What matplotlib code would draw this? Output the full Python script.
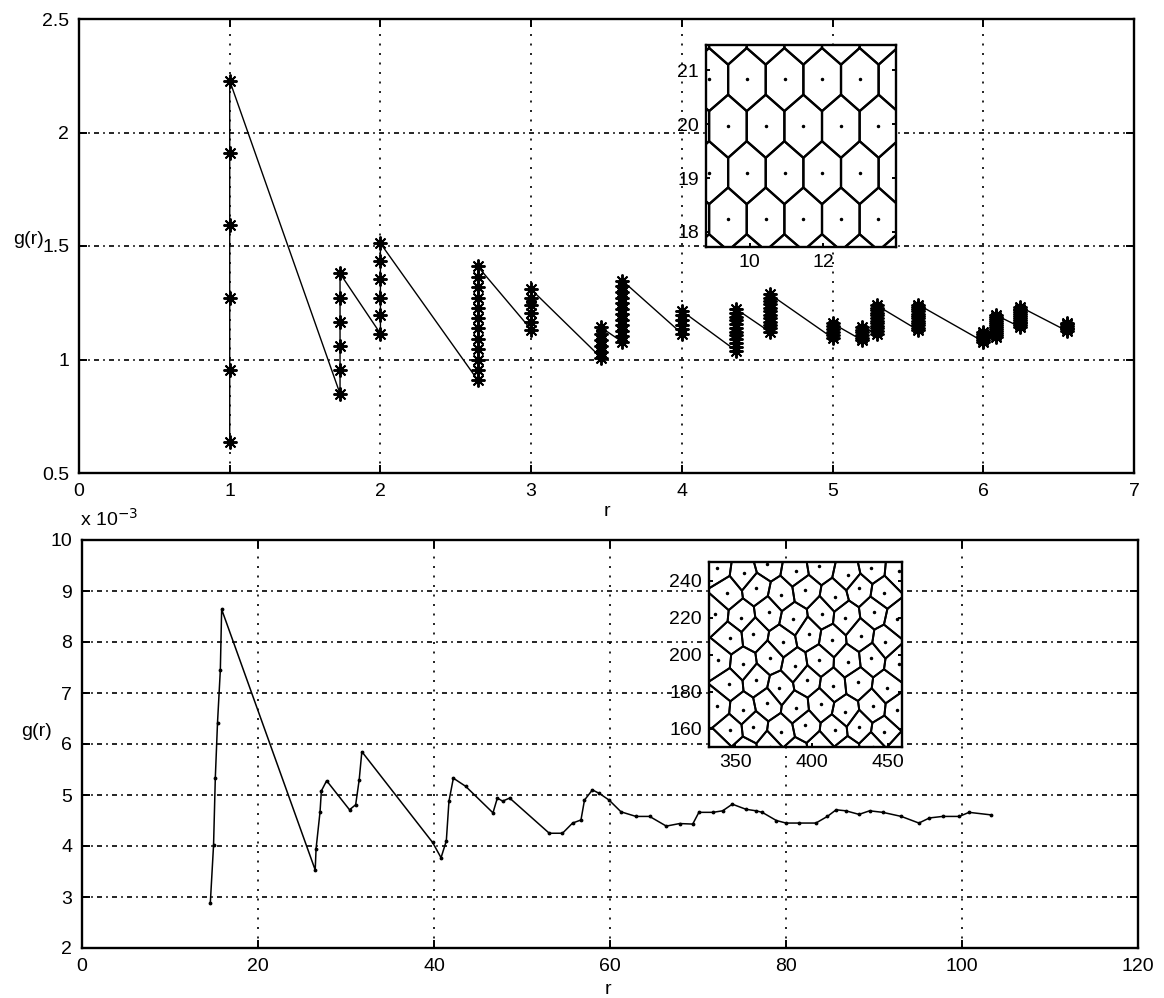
import numpy as np
import matplotlib
matplotlib.use("Agg")
import matplotlib.pyplot as plt
from matplotlib.patches import Polygon

plt.rcParams['font.family'] = ['Liberation Sans', 'DejaVu Sans']
plt.rcParams['font.size'] = 14

W, H = 1164, 998

# --- top panel: g(r) of the perfect lattice, one cluster per neighbour shell
shell_r = [1.0, 1.732, 2.0, 2.646, 3.0, 3.464, 3.606, 4.0, 4.359, 4.583,
           5.0, 5.196, 5.292, 5.568, 6.0, 6.083, 6.245, 6.557]
shell_g = [
    [0.637, 0.955, 1.273, 1.592, 1.910, 2.228],
    [0.849, 0.955, 1.061, 1.167, 1.273, 1.379],
    [1.114, 1.194, 1.273, 1.353, 1.432, 1.512],
    [0.909, 0.955, 1.000, 1.046, 1.091, 1.137, 1.182, 1.228, 1.273, 1.319, 1.364, 1.410],
    [1.132, 1.167, 1.203, 1.238, 1.273, 1.309],
    [1.008, 1.035, 1.061, 1.088, 1.114, 1.141],
    [1.077, 1.102, 1.126, 1.151, 1.175, 1.200, 1.224, 1.249, 1.273, 1.298, 1.322, 1.347],
    [1.114, 1.134, 1.154, 1.174, 1.194, 1.214],
    [1.039, 1.055, 1.072, 1.089, 1.106, 1.122, 1.139, 1.156, 1.173, 1.189, 1.206, 1.223],
    [1.122, 1.137, 1.152, 1.167, 1.182, 1.197, 1.213, 1.228, 1.243, 1.258, 1.273, 1.288],
    [1.095, 1.108, 1.120, 1.133, 1.146, 1.159],
    [1.085, 1.096, 1.108, 1.120, 1.132, 1.144],
    [1.114, 1.125, 1.137, 1.148, 1.160, 1.171, 1.182, 1.194, 1.205, 1.216, 1.228, 1.239],
    [1.129, 1.140, 1.150, 1.160, 1.171, 1.181, 1.191, 1.201, 1.212, 1.222, 1.232, 1.242],
    [1.079, 1.088, 1.096, 1.105, 1.114, 1.123],
    [1.101, 1.110, 1.118, 1.127, 1.136, 1.144, 1.153, 1.161, 1.170, 1.179, 1.187, 1.196],
    [1.143, 1.151, 1.159, 1.167, 1.175, 1.183, 1.192, 1.200, 1.208, 1.216, 1.224, 1.232],
    [1.125, 1.133, 1.140, 1.148, 1.155, 1.162],
]

# --- bottom panel: g(r) of the disordered packing (values in units of 1e-3)
bot_r = [14.58, 14.95, 15.15, 15.4, 15.72, 15.87, 26.5, 26.6, 27.05, 27.2, 27.8,
         30.4, 31.1, 31.5, 31.8, 39.84, 40.8, 41.4, 41.7, 42.2, 43.6, 46.7, 47.2,
         47.8, 48.6, 53.1, 54.6, 55.75, 56.7, 57.1, 58.0, 58.8, 59.9, 61.25, 62.95,
         64.5, 66.4, 67.9, 69.4, 70.1, 71.7, 72.8, 73.9, 75.45, 76.6, 77.3, 78.9,
         80.0, 81.5, 83.4, 84.7, 85.7, 86.8, 88.3, 89.5, 91.0, 93.1, 95.1, 96.3,
         97.8, 99.7, 100.8, 103.3]
bot_g = [2.88, 4.02, 5.34, 6.42, 7.45, 8.64, 3.53, 3.95, 4.67, 5.08, 5.28,
         4.71, 4.81, 5.30, 5.85, 4.07, 3.77, 4.10, 4.88, 5.33, 5.17, 4.65, 4.94,
         4.88, 4.94, 4.25, 4.25, 4.45, 4.51, 4.90, 5.10, 5.03, 4.90, 4.67, 4.58,
         4.58, 4.39, 4.44, 4.43, 4.66, 4.66, 4.69, 4.82, 4.72, 4.69, 4.66, 4.50,
         4.45, 4.45, 4.45, 4.58, 4.71, 4.69, 4.62, 4.69, 4.66, 4.58, 4.45, 4.55,
         4.58, 4.58, 4.66, 4.61]

# hexagonal lattice sites for the upper inset
hex_rows_y = [21.69, 20.83, 19.96, 19.10, 18.24, 17.37]
hex_row_a = [8.89, 9.92, 10.95, 11.98, 13.01, 14.04]
hex_row_b = [8.37, 9.40, 10.43, 11.46, 12.49, 13.52, 14.55]

# disordered particle centres for the lower inset
disk_x = [338, 356, 371, 390, 405, 424, 439, 457,
          345, 364, 380, 396, 415, 431, 447,
          337, 354, 372, 388, 407, 422, 441, 456,
          347, 362, 381, 398, 413, 432, 448,
          339, 355, 373, 389, 405, 424, 439, 457,
          346, 364, 379, 397, 414, 430, 449,
          338, 355, 371, 390, 406, 422, 440, 456,
          347, 362, 380, 396, 415, 431, 447,
          339, 356, 373, 389, 406, 423, 440, 457]
disk_y = [247, 244, 249, 245, 248, 243, 247, 245,
          233, 236, 232, 235, 231, 236, 233,
          222, 220, 223, 219, 222, 220, 223, 219,
          209, 211, 207, 211, 208, 210, 207,
          197, 195, 198, 194, 197, 196, 198, 195,
          184, 186, 182, 186, 183, 185, 182,
          172, 170, 174, 171, 173, 169, 172, 170,
          159, 161, 158, 162, 159, 161, 158,
          149, 147, 150, 146, 149, 147, 150, 147]


def clip_half(poly, m, n):
    # keep the part of poly with (x - m) . n <= 0
    out = []
    k = len(poly)
    for i in range(k):
        a, b = poly[i], poly[(i + 1) % k]
        da, db = np.dot(a - m, n), np.dot(b - m, n)
        if da <= 0:
            out.append(a)
        if da * db < 0:
            t = da / (da - db)
            out.append(a + t * (b - a))
    return out


def voronoi_cells(xs, ys, box):
    pts = np.column_stack([xs, ys]).astype(float)
    x0, y0, x1, y1 = box
    cells = []
    for i, p in enumerate(pts):
        poly = [np.array(c, float) for c in [(x0, y0), (x1, y0), (x1, y1), (x0, y1)]]
        for j, q in enumerate(pts):
            if i != j and len(poly) > 2:
                poly = clip_half(poly, (p + q) / 2, q - p)
        cells.append(np.array(poly))
    return cells


def matlab_axes(ax, ticklen=6):
    for s in ax.spines.values():
        s.set_linewidth(1.7)
    ax.tick_params(direction='in', length=ticklen, width=1.4, top=True, right=True,
                   pad=7, labelsize=14)


def matlab_grid(ax):
    ax.grid(False)
    for y in ax.get_yticks()[1:-1]:
        ax.axhline(y, color='black', lw=1.2, ls=(0, (3, 2.5, 1, 2.5)), zorder=0.5)
    for x in ax.get_xticks()[1:-1]:
        ax.axvline(x, color='black', lw=1.2, ls=(0, (1.2, 4.5)), zorder=0.5)


def px_axes(fig, l, t, r, b):
    return fig.add_axes([l / W, 1 - b / H, (r - l) / W, (b - t) / H])


fig = plt.figure(figsize=(W / 100, H / 100), dpi=100)
fig.patch.set_facecolor('white')

# upper panel
ax1 = px_axes(fig, 79, 19, 1134, 473)
r_all = np.concatenate([[r] * len(g) for r, g in zip(shell_r, shell_g)])
g_all = np.concatenate(shell_g)
ax1.plot(r_all, g_all, '-', color='black', lw=1.0, marker=(8, 2, 0),
         ms=10, mew=1.4, zorder=3)
ax1.set_xlim(0, 7)
ax1.set_ylim(0.5, 2.5)
ax1.set_xticks(range(8))
ax1.set_yticks([0.5, 1, 1.5, 2, 2.5])
ax1.set_yticklabels(['0.5', '1', '1.5', '2', '2.5'])
matlab_axes(ax1)
matlab_grid(ax1)
fig.text(28 / W, 1 - 240 / H, 'g(r)', ha='center', va='center', fontsize=14)
fig.text(607 / W, 1 - 512 / H, 'r', ha='center', va='center', fontsize=14)

# lower panel
ax2 = px_axes(fig, 82, 540, 1138, 948)
ax2.plot(bot_r, bot_g, '-', color='black', lw=1.1, marker='.', ms=3.5, zorder=3)
ax2.set_xlim(0, 120)
ax2.set_ylim(2, 10)
ax2.set_xticks(range(0, 121, 20))
ax2.set_yticks(range(2, 11))
matlab_axes(ax2)
matlab_grid(ax2)
fig.text(80 / W, 1 - 519 / H, r'x 10$^{-3}$', ha='left', va='center', fontsize=14)
fig.text(36 / W, 1 - 731 / H, 'g(r)', ha='center', va='center', fontsize=14)
fig.text(608 / W, 1 - 989 / H, 'r', ha='center', va='center', fontsize=14)

# upper inset: Voronoi cells of the hexagonal lattice
hx, hy = [], []
for k, y in enumerate(hex_rows_y):
    row = hex_row_b if k % 2 == 0 else hex_row_a
    hx += row
    hy += [y] * len(row)
ins1 = px_axes(fig, 706, 45, 896, 247)
ins1.set_facecolor('white')
for cell in voronoi_cells(hx, hy, (7.5, 16.5, 15.5, 22.5)):
    ins1.add_patch(Polygon(cell, closed=True, fill=False, lw=1.6, ec='black'))
ins1.plot(hx, hy, '.', color='black', ms=3)
ins1.set_xlim(8.8, 14.0)
ins1.set_ylim(17.72, 21.47)
ins1.set_xticks([10, 12])
ins1.set_yticks([18, 19, 20, 21])
matlab_axes(ins1, ticklen=3)
ins1.tick_params(top=False, right=True, pad=5)

# lower inset: Voronoi cells of the disordered packing
ins2 = px_axes(fig, 709, 562, 902, 747)
ins2.set_facecolor('white')
for cell in voronoi_cells(disk_x, disk_y, (300, 120, 490, 280)):
    ins2.add_patch(Polygon(cell, closed=True, fill=False, lw=1.4, ec='black'))
ins2.plot(disk_x, disk_y, '.', color='black', ms=3)
ins2.set_xlim(333, 459)
ins2.set_ylim(150, 250)
ins2.set_xticks([350, 400, 450])
ins2.set_yticks([160, 180, 200, 220, 240])
matlab_axes(ins2, ticklen=3)
ins2.tick_params(top=False, right=True, pad=5)

fig.savefig('out.png', dpi=100)
